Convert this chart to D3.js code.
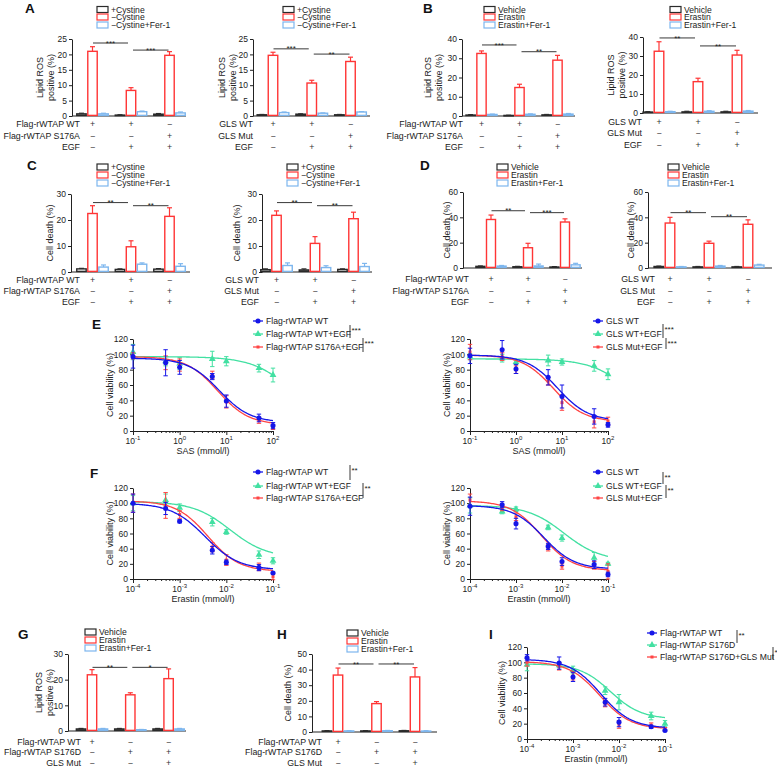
<!DOCTYPE html>
<html>
<head>
<meta charset="utf-8">
<script src="https://cdn.jsdelivr.net/npm/d3@7"></script>
<style>
  body { margin: 0; background: #fff; }
  svg { font-family: "Liberation Sans", Arial, sans-serif; }
  .axis path, .axis line { stroke: #222; }
  .axis text { font-size: 8.5px; fill: #222; }
</style>
</head>
<body>
<svg id="fig" width="777" height="768"></svg>
<script>
var MINUS = '\u2212';
var GROUPS = ['g1', 'g2', 'g3'];

// legend names
var CYS_SERIES = ['+Cystine', MINUS + 'Cystine', MINUS + 'Cystine+Fer-1'];
var ERA_SERIES = ['Vehicle', 'Erastin', 'Erastin+Fer-1'];

// +/- table under bar charts
var WT_ROWS = ['Flag-rWTAP WT', 'Flag-rWTAP S176A', 'EGF'];
var GLS_ROWS = ['GLS WT', 'GLS Mut', 'EGF'];
var S176D_ROWS = ['Flag-rWTAP WT', 'Flag-rWTAP S176D', 'GLS Mut'];
var SIGNS_EGF = [['+', '+', MINUS], [MINUS, MINUS, '+'], [MINUS, '+', '+']];
var SIGNS_S176D = [['+', MINUS, MINUS], [MINUS, '+', '+'], [MINUS, MINUS, '+']];

// bar values: [series][group]
var A1_MEAN = [[0.7, 0.3, 0.6], [21.0, 8.3, 19.7], [0.7, 1.4, 1.0]];
var A1_ERR = [[0.2, 0.1, 0.2], [1.5, 0.9, 1.2], [0.2, 0.2, 0.3]];
var A1_SIG = [['***', 23.7], ['***', 21.4]];
var A2_MEAN = [[0.4, 0.6, 0.4], [19.7, 10.7, 17.7], [1.1, 0.9, 1.3]];
var A2_ERR = [[0.1, 0.1, 0.1], [1.0, 0.9, 1.4], [0.2, 0.1, 0.1]];
var A2_SIG = [['***', 21.8], ['**', 20.1]];

var B1_MEAN = [[0.5, 0.3, 0.6], [32.5, 14.8, 29.0], [0.8, 0.9, 1.0]];
var B1_ERR = [[0.2, 0.1, 0.2], [1.3, 1.7, 2.5], [0.2, 0.2, 0.3]];
var B1_SIG = [['***', 36.9], ['**', 33.4]];
var B2_MEAN = [[0.5, 0.6, 0.6], [32.5, 16.5, 30.5], [0.7, 0.9, 1.0]];
var B2_ERR = [[0.2, 0.3, 0.3], [5.0, 1.8, 2.5], [0.2, 0.3, 0.3]];
var B2_SIG = [['**', 39.5], ['**', 35.3]];

var C1_MEAN = [[1.2, 1.0, 1.1], [22.5, 9.7, 21.4], [1.9, 3.0, 2.2]];
var C1_ERR = [[0.2, 0.2, 0.2], [3.0, 2.3, 3.3], [0.8, 0.5, 1.0]];
var C1_SIG = [['**', 26.7], ['**', 25.5]];
var C2_MEAN = [[0.9, 0.8, 1.0], [21.8, 11.0, 20.5], [2.5, 1.7, 2.1]];
var C2_ERR = [[0.3, 0.4, 0.2], [1.7, 2.6, 2.5], [1.0, 0.7, 1.2]];
var C2_SIG = [['**', 26.7], ['**', 25.5]];

var D1_MEAN = [[1.3, 1.0, 0.8], [38.3, 16.0, 36.3], [1.5, 1.6, 2.5]];
var D1_ERR = [[0.3, 0.3, 0.3], [3.5, 3.5, 2.5], [0.5, 1.5, 1.2]];
var D1_SIG = [['**', 45.2], ['***', 43.7]];
var D2_MEAN = [[1.2, 0.9, 0.9], [35.5, 19.5, 34.5], [0.9, 1.5, 2.3]];
var D2_ERR = [[0.3, 0.3, 0.3], [4.5, 1.7, 3.5], [0.3, 0.5, 0.6]];
var D2_SIG = [['**', 43.7], ['**', 40.5]];

var G_MEAN = [[0.8, 0.8, 0.8], [21.9, 14.1, 20.4], [0.8, 0.5, 0.8]];
var G_ERR = [[0.2, 0.2, 0.2], [2.0, 0.8, 3.8], [0.2, 0.1, 0.2]];
var G_SIG = [['**', 24.8], ['*', 24.8]];
var H_MEAN = [[0.7, 0.7, 0.8], [36.5, 18.2, 35.3], [0.7, 0.8, 0.6]];
var H_ERR = [[0.2, 0.2, 0.2], [4.5, 1.3, 6.0], [0.2, 0.2, 0.2]];
var H_SIG = [['**', 43.6], ['**', 43.6]];

// dose-response data
var X_SAS = [0.1, 0.5, 1, 5, 10, 50, 100];
var X_ERA = [1e-4, 5e-4, 1e-3, 5e-3, 1e-2, 5e-2, 1e-1];
var VIAB_TICKS = [0, 20, 40, 60, 80, 100, 120];

var E1_NAMES = ['Flag-rWTAP WT', 'Flag-rWTAP WT+EGF', 'Flag-rWTAP S176A+EGF'];
var E1_MEAN = [[97, 89, 83, 71, 39, 17, 7], [103, 91, 88, 94, 91, 82, 73], [98, 89, 86, 73, 38, 14, 5]];
var E1_ERR = [[15, 17, 9, 4, 8, 5, 4], [10, 6, 8, 10, 6, 5, 9], [4, 9, 8, 5, 8, 4, 3]];
var E1_FIT = [[95, 11, 7, 1.3], [97, 0, 300, 1], [97, 8, 6.5, 1.3]]; // top, bottom, IC50, hill

var E2_NAMES = ['GLS WT', 'GLS WT+EGF', 'GLS Mut+EGF'];
var E2_MEAN = [[98, 106, 81, 70, 45, 19, 8], [97, 95, 90, 92, 90, 85, 74], [103, 97, 80, 65, 37, 12, 13]];
var E2_ERR = [[10, 12, 6, 10, 15, 10, 3], [4, 5, 3, 7, 4, 7, 7], [10, 5, 5, 5, 10, 8, 5]];
var E2_FIT = [[99, 13, 8, 1.3], [94, 0, 370, 1], [99, 12, 6.5, 1.3]];

var F1_NAMES = E1_NAMES;
var F1_MEAN = [[100, 93, 76, 38, 22, 15, 8], [100, 104, 94, 75, 62, 32, 24], [100, 97, 85, 42, 25, 16, 3]];
var F1_ERR = [[12, 8, 2, 5, 3, 4, 1], [10, 8, 5, 5, 3, 5, 4], [12, 17, 5, 6, 7, 5, 4]];
var F1_FIT = [[100, 12, 3.5e-3, 1.2], [102, 28, 1.2e-2, 1.1], [103, 10, 4e-3, 1.3]];

var F2_NAMES = E2_NAMES;
var F2_MEAN = [[96, 98, 73, 43, 23, 19, 6], [97, 89, 92, 68, 54, 28, 20], [104, 93, 82, 41, 17, 18, 10]];
var F2_ERR = [[12, 4, 7, 4, 5, 5, 3], [10, 3, 3, 3, 4, 7, 2], [8, 3, 5, 4, 4, 5, 10]];
var F2_FIT = [[97, 13, 4e-3, 1.3], [97, 24, 1.1e-2, 1.1], [103, 11, 3.6e-3, 1.3]];

var I_NAMES = ['Flag-rWTAP WT', 'Flag-rWTAP S176D', 'Flag-rWTAP S176D+GLS Mut'];
var I_MEAN = [[106, 99, 81, 48, 22, 16, 11], [97, 96, 90, 63, 48, 30, 20], [100, 95, 82, 46, 19, 18, 13]];
var I_ERR = [[4, 8, 6, 5, 6, 2, 1], [8, 3, 5, 5, 10, 5, 4], [5, 5, 5, 4, 5, 3, 2]];
var I_FIT = [[104, 14, 4e-3, 1.3], [98, 26, 6.5e-3, 1.3], [101, 13, 3.8e-3, 1.3]];

var BAR_COLORS = ['#2a2a2a', '#ff3535', '#7db6ee'];
var LINE_COLORS = ['#1616e8', '#42e0a2', '#ff4545'];
var INK = '#222';

var svg = d3.select('#fig');

function panelLetter(t, x, y) {
  svg.append('text').attr('x', x).attr('y', y).attr('font-size', 13.5).attr('font-weight', 'bold')
     .attr('fill', '#111').text(t);
}

function rotLabel(g, lines, xs, cy) {
  lines.forEach(function(l, i) {
    g.append('text').attr('transform', 'translate(' + xs[i] + ',' + cy + ')rotate(-90)')
     .attr('text-anchor', 'middle').attr('dominant-baseline', 'central')
     .attr('font-size', 9).attr('fill', INK).text(l);
  });
}

function drawBars(p) {
  var g = svg.append('g');
  var y = d3.scaleLinear().domain([0, p.ymax]).range([p.yb, p.yt]);
  var xg = d3.scaleBand().domain(GROUPS)
      .range([p.c0 - p.step / 2, p.c0 + p.step * 2.5])
      .paddingInner(0.14).paddingOuter(0.07);
  var xs = d3.scaleBand().domain([0, 1, 2]).range([0, xg.bandwidth()]);
  var redC = GROUPS.map(function(gn) { return xg(gn) + xs(1) + xs.bandwidth() / 2; });

  g.append('g').attr('class', 'axis').attr('transform', 'translate(' + p.x0 + ',0)')
    .call(d3.axisLeft(y).tickValues(p.ticks).tickSize(3).tickSizeOuter(0).tickPadding(2));
  g.append('line').attr('x1', p.x0).attr('x2', p.xEnd).attr('y1', y(0)).attr('y2', y(0))
    .attr('stroke', INK);

  var flat = [];
  p.mean.forEach(function(row, s) {
    row.forEach(function(v, gi) {
      flat.push({s: s, g: GROUPS[gi], v: v, e: p.err[s][gi]});
    });
  });

  var bar = g.selectAll('.bar').data(flat).enter().append('g');
  bar.append('line')
     .attr('x1', function(d) { return xg(d.g) + xs(d.s) + xs.bandwidth() / 2; })
     .attr('x2', function(d) { return xg(d.g) + xs(d.s) + xs.bandwidth() / 2; })
     .attr('y1', function(d) { return y(d.v); })
     .attr('y2', function(d) { return y(d.v + d.e); })
     .attr('stroke', function(d) { return BAR_COLORS[d.s]; }).attr('stroke-width', 1.2);
  bar.append('line')
     .attr('x1', function(d) { return xg(d.g) + xs(d.s) + xs.bandwidth() / 2 - 2.5; })
     .attr('x2', function(d) { return xg(d.g) + xs(d.s) + xs.bandwidth() / 2 + 2.5; })
     .attr('y1', function(d) { return y(d.v + d.e); })
     .attr('y2', function(d) { return y(d.v + d.e); })
     .attr('stroke', function(d) { return BAR_COLORS[d.s]; }).attr('stroke-width', 1.2);
  bar.append('rect')
     .attr('x', function(d) { return xg(d.g) + xs(d.s) + 0.8; })
     .attr('width', xs.bandwidth() - 1.6)
     .attr('y', function(d) { return y(d.v); })
     .attr('height', function(d) { return Math.max(0.5, y(0) - y(d.v) - 0.6); })
     .attr('fill', '#fff')
     .attr('stroke', function(d) { return BAR_COLORS[d.s]; })
     .attr('stroke-width', 1.4);

  // significance
  var spans = [[redC[0] + 0.5, redC[1] - 3], [redC[1] + 2, redC[2] - 1]];
  p.sig.forEach(function(sg, i) {
    var yy = y(sg[1]);
    g.append('line').attr('x1', spans[i][0]).attr('x2', spans[i][1]).attr('y1', yy).attr('y2', yy)
     .attr('stroke', INK).attr('stroke-width', 0.9);
    g.append('text').attr('x', (spans[i][0] + spans[i][1]) / 2).attr('y', yy + 2.6)
     .attr('text-anchor', 'middle').attr('font-size', 8).attr('fill', INK).text(sg[0]);
  });

  // legend
  p.series.forEach(function(name, s) {
    g.append('rect').attr('x', p.lx).attr('y', p.ly[s] - 3).attr('width', 11).attr('height', 6)
     .attr('fill', '#fff').attr('stroke', BAR_COLORS[s]).attr('stroke-width', 1.2);
    g.append('text').attr('x', p.lx + 14).attr('y', p.ly[s]).attr('dominant-baseline', 'central')
     .attr('font-size', 8.6).attr('fill', INK).text(name);
  });

  // +/- table
  p.rows.forEach(function(lab, r) {
    g.append('text').attr('x', p.rowRight).attr('y', p.rowY[r]).attr('text-anchor', 'end')
     .attr('dominant-baseline', 'central').attr('font-size', 8.8).attr('fill', INK).text(lab);
    p.signs[r].forEach(function(sgn, gi) {
      g.append('text').attr('x', redC[gi]).attr('y', p.rowY[r]).attr('text-anchor', 'middle')
       .attr('dominant-baseline', 'central').attr('font-size', 8.8).attr('fill', '#333').text(sgn);
    });
  });

  rotLabel(g, p.ylab, p.ylx, (p.yb + p.yt) / 2);
}

function fit4(f, xv) {
  return f[1] + (f[0] - f[1]) / (1 + Math.pow(xv / f[2], f[3]));
}

function marker(g, s, cx, cy) {
  var type = [d3.symbolCircle, d3.symbolTriangle, d3.symbolSquare][s];
  var size = [20, 20, 9][s];
  g.append('path').attr('d', d3.symbol().type(type).size(size)())
   .attr('transform', 'translate(' + cx + ',' + cy + ')')
   .attr('fill', LINE_COLORS[s]);
}

function drawCurves(p) {
  var g = svg.append('g');
  var x = d3.scaleLog().domain(p.xdom).range([p.xa, p.xb]);
  var y = d3.scaleLinear().domain([0, 120]).range([p.yb, p.yt]);
  var lo = Math.round(Math.log10(p.xdom[0])), hi = Math.round(Math.log10(p.xdom[1]));
  var major = d3.range(lo, hi + 1).map(function(k) { return Math.pow(10, k); });
  var minor = [];
  major.slice(0, -1).forEach(function(m) {
    d3.range(2, 10).forEach(function(k) { minor.push(m * k); });
  });

  g.append('g').attr('class', 'axis').attr('transform', 'translate(' + p.xa + ',0)')
    .call(d3.axisLeft(y).tickValues(VIAB_TICKS).tickSize(3).tickSizeOuter(0).tickPadding(2));
  g.append('g').attr('class', 'axis').attr('transform', 'translate(0,' + p.yb + ')')
    .call(d3.axisBottom(x).tickValues(minor).tickSize(2).tickFormat('').tickSizeOuter(0));
  g.append('g').attr('class', 'axis').attr('transform', 'translate(0,' + p.yb + ')')
    .call(d3.axisBottom(x).tickValues(major).tickSize(4).tickFormat('').tickSizeOuter(0));

  major.forEach(function(m, i) {
    var t = g.append('text').attr('x', x(m)).attr('y', p.yb + 13).attr('text-anchor', 'middle')
      .attr('font-size', 8.5).attr('fill', INK);
    t.append('tspan').text('10');
    t.append('tspan').attr('dy', -4).attr('font-size', 6).text(lo + i);
  });
  g.append('text').attr('x', (p.xa + p.xb) / 2).attr('y', p.yb + 23).attr('text-anchor', 'middle')
   .attr('font-size', 9).attr('fill', INK).text(p.xlab);
  rotLabel(g, ['Cell viability (%)'], [p.ylx], (p.yb + p.yt) / 2);

  var samples = d3.range(0, 121).map(function(i) { return Math.pow(10, lo + (hi - lo) * i / 120); });
  var line = d3.line().x(function(d) { return x(d[0]); }).y(function(d) { return y(d[1]); });

  [1, 2, 0].forEach(function(s) {
    var col = LINE_COLORS[s];
    g.append('path').datum(samples.map(function(v) { return [v, fit4(p.fit[s], v)]; }))
     .attr('d', line).attr('fill', 'none').attr('stroke', col).attr('stroke-width', 1.3);
    p.xv.forEach(function(xv, i) {
      var m = p.mean[s][i], e = p.err[s][i], cx = x(xv);
      g.append('line').attr('x1', cx).attr('x2', cx).attr('y1', y(m - e)).attr('y2', y(m + e))
       .attr('stroke', col).attr('stroke-width', 1);
      [m - e, m + e].forEach(function(v) {
        g.append('line').attr('x1', cx - 2.2).attr('x2', cx + 2.2).attr('y1', y(v)).attr('y2', y(v))
         .attr('stroke', col).attr('stroke-width', 1);
      });
      marker(g, s, cx, y(m));
    });
  });

  // legend
  p.names.forEach(function(name, s) {
    g.append('line').attr('x1', p.lx).attr('x2', p.lx + 10).attr('y1', p.ly[s]).attr('y2', p.ly[s])
     .attr('stroke', LINE_COLORS[s]).attr('stroke-width', 1.3);
    marker(g, s, p.lx + 5, p.ly[s]);
    g.append('text').attr('x', p.lx + 13).attr('y', p.ly[s]).attr('dominant-baseline', 'central')
     .attr('font-size', 8.6).attr('fill', INK).text(name);
  });
  p.brackets.forEach(function(b) {
    g.append('line').attr('x1', b[0]).attr('x2', b[0]).attr('y1', b[1]).attr('y2', b[2])
     .attr('stroke', INK).attr('stroke-width', 0.9);
    g.append('text').attr('x', b[0] + 1.5).attr('y', b[1] + 7.5).attr('font-size', 8)
     .attr('fill', INK).text(b[3]);
  });
}

// ---- bar panels ----
drawBars({mean: A1_MEAN, err: A1_ERR, sig: A1_SIG, series: CYS_SERIES, rows: WT_ROWS, signs: SIGNS_EGF,
  x0: 72, xEnd: 186, c0: 92.5, step: 38.5, yb: 116, yt: 39, ymax: 25, ticks: [0, 5, 10, 15, 20, 25],
  lx: 97, ly: [9.5, 17, 25], rowRight: 80, rowY: [124, 135.5, 147],
  ylab: ['Lipid ROS', 'positive (%)'], ylx: [39.5, 50.5]});
drawBars({mean: A2_MEAN, err: A2_ERR, sig: A2_SIG, series: CYS_SERIES, rows: GLS_ROWS, signs: SIGNS_EGF,
  x0: 253, xEnd: 370, c0: 273, step: 38.75, yb: 116, yt: 39, ymax: 25, ticks: [0, 5, 10, 15, 20, 25],
  lx: 283, ly: [9.5, 17, 25], rowRight: 253, rowY: [124, 135.5, 147],
  ylab: ['Lipid ROS', 'positive (%)'], ylx: [221.5, 232.5]});
drawBars({mean: B1_MEAN, err: B1_ERR, sig: B1_SIG, series: ERA_SERIES, rows: WT_ROWS, signs: SIGNS_EGF,
  x0: 462, xEnd: 575, c0: 481.5, step: 38, yb: 116, yt: 39, ymax: 40, ticks: [0, 10, 20, 30, 40],
  lx: 484, ly: [9.5, 17, 25], rowRight: 463, rowY: [124, 135.5, 147],
  ylab: ['Lipid ROS', 'positive (%)'], ylx: [428, 439]});
drawBars({mean: B2_MEAN, err: B2_ERR, sig: B2_SIG, series: ERA_SERIES, rows: GLS_ROWS, signs: SIGNS_EGF,
  x0: 643, xEnd: 758, c0: 659, step: 39, yb: 113, yt: 37, ymax: 40, ticks: [0, 10, 20, 30, 40],
  lx: 670, ly: [9.5, 17, 25], rowRight: 642, rowY: [121.5, 133, 145],
  ylab: ['Lipid ROS', 'positive (%)'], ylx: [611, 622]});
drawBars({mean: C1_MEAN, err: C1_ERR, sig: C1_SIG, series: CYS_SERIES, rows: WT_ROWS, signs: SIGNS_EGF,
  x0: 71, xEnd: 190, c0: 92.5, step: 38.5, yb: 272, yt: 194, ymax: 30, ticks: [0, 10, 20, 30],
  lx: 97, ly: [167, 175, 183], rowRight: 80, rowY: [279.5, 291, 302],
  ylab: ['Cell death (%)'], ylx: [50]});
drawBars({mean: C2_MEAN, err: C2_ERR, sig: C2_SIG, series: CYS_SERIES, rows: GLS_ROWS, signs: SIGNS_EGF,
  x0: 262, xEnd: 372, c0: 276.5, step: 38.5, yb: 272, yt: 194, ymax: 30, ticks: [0, 10, 20, 30],
  lx: 287, ly: [167, 175, 183], rowRight: 259, rowY: [279.5, 291, 302],
  ylab: ['Cell death (%)'], ylx: [237]});
drawBars({mean: D1_MEAN, err: D1_ERR, sig: D1_SIG, series: ERA_SERIES, rows: WT_ROWS, signs: SIGNS_EGF,
  x0: 463, xEnd: 582, c0: 491, step: 37, yb: 268, yt: 192, ymax: 60, ticks: [0, 20, 40, 60],
  lx: 497, ly: [167, 175, 183], rowRight: 469, rowY: [279, 291, 302],
  ylab: ['Cell death (%)'], ylx: [447]});
drawBars({mean: D2_MEAN, err: D2_ERR, sig: D2_SIG, series: ERA_SERIES, rows: GLS_ROWS, signs: SIGNS_EGF,
  x0: 648, xEnd: 772, c0: 670, step: 39, yb: 268, yt: 192, ymax: 60, ticks: [0, 20, 40, 60],
  lx: 668, ly: [167, 175, 183], rowRight: 655, rowY: [279, 291, 302],
  ylab: ['Cell death (%)'], ylx: [631]});
drawBars({mean: G_MEAN, err: G_ERR, sig: G_SIG, series: ERA_SERIES, rows: S176D_ROWS, signs: SIGNS_S176D,
  x0: 68, xEnd: 186, c0: 92, step: 38.3, yb: 731, yt: 654, ymax: 30, ticks: [0, 10, 20, 30],
  lx: 85, ly: [632, 640, 648], rowRight: 81, rowY: [742, 752, 762.5],
  ylab: ['Lipid ROS', 'positive (%)'], ylx: [38.5, 49.5]});
drawBars({mean: H_MEAN, err: H_ERR, sig: H_SIG, series: ERA_SERIES, rows: S176D_ROWS, signs: SIGNS_S176D,
  x0: 312, xEnd: 437, c0: 338, step: 38.5, yb: 732, yt: 654, ymax: 50, ticks: [0, 10, 20, 30, 40, 50],
  lx: 347, ly: [633, 641, 649], rowRight: 322, rowY: [742, 752, 762.5],
  ylab: ['Cell death (%)'], ylx: [288]});

// ---- dose-response panels ----
drawCurves({xv: X_SAS, mean: E1_MEAN, err: E1_ERR, fit: E1_FIT, names: E1_NAMES, xdom: [0.1, 100],
  xa: 133, xb: 273, yb: 431, yt: 339, xlab: 'SAS (mmol/l)', ylx: 110, lx: 253, ly: [321, 334, 347],
  brackets: [[350, 325, 338, '***'], [363, 338, 352, '***']]});
drawCurves({xv: X_SAS, mean: E2_MEAN, err: E2_ERR, fit: E2_FIT, names: E2_NAMES, xdom: [0.1, 100],
  xa: 470, xb: 608, yb: 431, yt: 339, xlab: 'SAS (mmol/l)', ylx: 447, lx: 593, ly: [321, 334, 347],
  brackets: [[663, 324, 338, '***'], [666, 338, 349, '***']]});
drawCurves({xv: X_ERA, mean: F1_MEAN, err: F1_ERR, fit: F1_FIT, names: F1_NAMES, xdom: [1e-4, 1e-1],
  xa: 133, xb: 273, yb: 579, yt: 488, xlab: 'Erastin (mmol/l)', ylx: 110, lx: 253, ly: [472, 486, 498],
  brackets: [[350, 465, 480, '**'], [363, 483, 498, '**']]});
drawCurves({xv: X_ERA, mean: F2_MEAN, err: F2_ERR, fit: F2_FIT, names: F2_NAMES, xdom: [1e-4, 1e-1],
  xa: 470, xb: 608, yb: 579, yt: 488, xlab: 'Erastin (mmol/l)', ylx: 447, lx: 593, ly: [472, 486, 498],
  brackets: [[663, 472, 484, '**'], [666, 485, 498, '**']]});
drawCurves({xv: X_ERA, mean: I_MEAN, err: I_ERR, fit: I_FIT, names: I_NAMES, xdom: [1e-4, 1e-1],
  xa: 527, xb: 665, yb: 739, yt: 647, xlab: 'Erastin (mmol/l)', ylx: 502, lx: 647, ly: [633, 645, 657],
  brackets: [[737, 630, 643, '**'], [773, 647, 659, '*']]});

panelLetter('A', 25, 12.5);
panelLetter('B', 423, 12.5);
panelLetter('C', 27, 170);
panelLetter('D', 420, 170);
panelLetter('E', 92, 329);
panelLetter('F', 90, 478);
panelLetter('G', 18, 639);
panelLetter('H', 277, 639);
panelLetter('I', 489, 639);
</script>
</body>
</html>
